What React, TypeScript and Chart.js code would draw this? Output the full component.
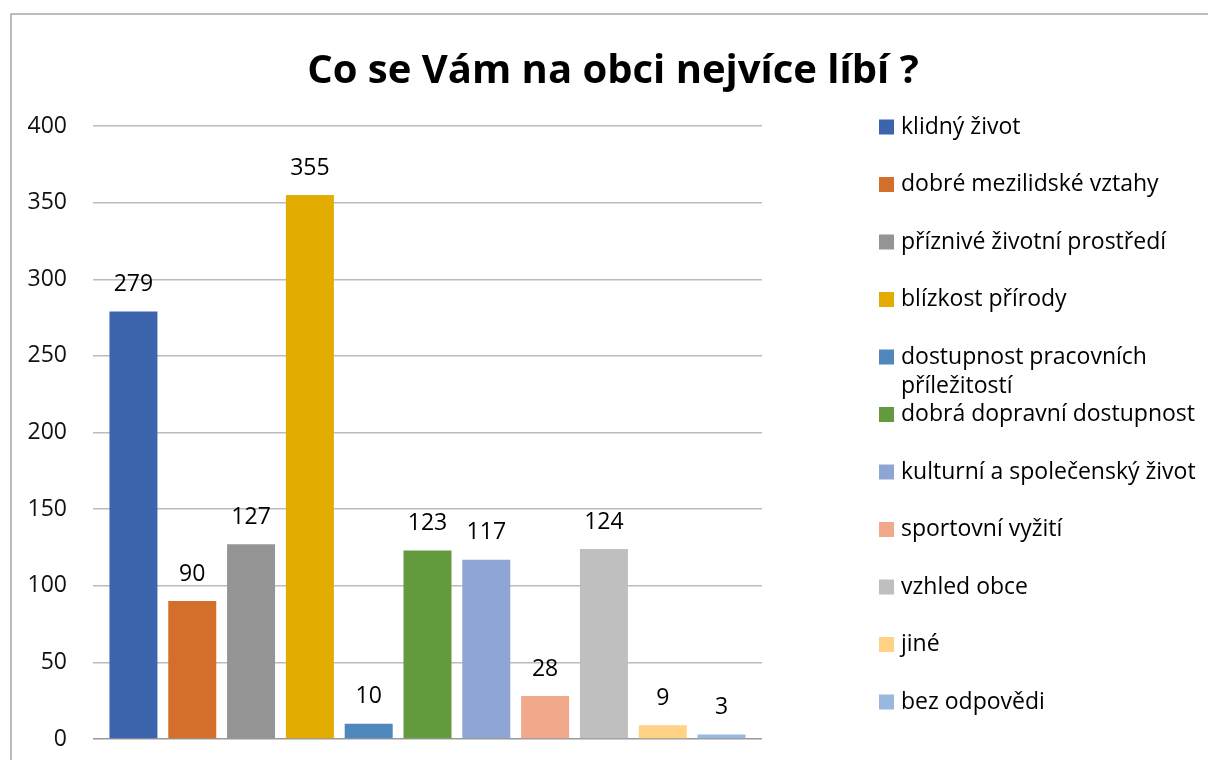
import React, { useEffect, useRef } from "react";
import { Chart, registerables } from "chart.js";

Chart.register(...registerables);

const TITLE = "Co se Vám na obci nejvíce líbí ?";
const CATEGORY_NAMES = [
  "klidný život",
  "dobré mezilidské vztahy",
  "příznivé životní prostředí",
  "blízkost přírody",
  "dostupnost pracovních příležitostí",
  "dobrá dopravní dostupnost",
  "kulturní a společenský život",
  "sportovní vyžití",
  "vzhled obce",
  "jiné",
  "bez odpovědi",
];
const VALUES = [279, 90, 127, 355, 10, 123, 117, 28, 124, 9, 3];
const COLORS = [
  "#3D65AE",
  "#D46F2B",
  "#949494",
  "#E2AC00",
  "#4F88BD",
  "#629A3D",
  "#8FA5D4",
  "#F0A98A",
  "#BFBFBF",
  "#FFD285",
  "#98B8E0",
];
const Y_MIN = 0;
const Y_MAX = 400;
const Y_STEP = 50;

const FONT = "'Open Sans', 'DejaVu Sans', sans-serif";

const decorPlugin = {
  id: "decor",
  afterDraw(chart: any) {
    const ctx = chart.ctx as CanvasRenderingContext2D;
    ctx.save();
    // outer frame
    ctx.strokeStyle = "#a6a6a6";
    ctx.lineWidth = 1.5;
    ctx.beginPath();
    ctx.moveTo(11, 800);
    ctx.lineTo(11, 14);
    ctx.lineTo(1300, 14);
    ctx.stroke();

    // title
    ctx.fillStyle = "#000";
    ctx.font = `bold 40px ${FONT}`;
    ctx.textAlign = "center";
    ctx.textBaseline = "middle";
    ctx.fillText(TITLE, 613, 72);

    // data labels
    ctx.font = `23px ${FONT}`;
    chart.data.datasets.forEach((ds: any, i: number) => {
      const meta = chart.getDatasetMeta(i);
      meta.data.forEach((bar: any, j: number) => {
        ctx.fillText(String(ds.data[j]), bar.x, bar.y - 27);
      });
    });

    // legend
    ctx.textAlign = "left";
    ctx.font = `23px ${FONT}`;
    const maxW = 300;
    chart.data.datasets.forEach((ds: any, i: number) => {
      const yc = 127 + i * 57.5;
      ctx.fillStyle = ds.backgroundColor;
      ctx.fillRect(879, yc - 7.5, 15, 15);
      ctx.fillStyle = "#000";
      const words = String(ds.label).split(" ");
      const lines: string[] = [];
      let cur = "";
      words.forEach((w) => {
        const t = cur ? cur + " " + w : w;
        if (ctx.measureText(t).width > maxW && cur) {
          lines.push(cur);
          cur = w;
        } else cur = t;
      });
      if (cur) lines.push(cur);
      lines.forEach((ln, k) => ctx.fillText(ln, 901, yc + k * 29));
    });
    ctx.restore();
  },
};

export default function App() {
  const ref = useRef<HTMLCanvasElement>(null);
  useEffect(() => {
    const chart = new Chart(ref.current!, {
      type: "bar",
      data: {
        labels: [""],
        datasets: CATEGORY_NAMES.map((name, i) => ({
          label: name,
          data: [VALUES[i]],
          backgroundColor: COLORS[i],
          borderWidth: 0,
          categoryPercentage: 0.967,
          barPercentage: 0.816,
        })),
      },
      options: {
        animation: false,
        responsive: false,
        maintainAspectRatio: false,
        devicePixelRatio: 1,
        layout: { padding: { left: 0, right: 446, top: 126, bottom: 21 } },
        plugins: {
          legend: { display: false },
          title: { display: false },
          tooltip: { enabled: false },
        },
        scales: {
          x: { display: false },
          y: {
            min: Y_MIN,
            max: Y_MAX,
            ticks: {
              stepSize: Y_STEP,
              padding: 26,
              color: "#111",
              font: { family: FONT, size: 23 },
            },
            grid: {
              drawTicks: false,
              lineWidth: 1.5,
              color: (c: any) => (c.tick && c.tick.value === 0 ? "#999999" : "#bcbcbc"),
            },
            border: { display: false },
            afterFit: (s: any) => {
              s.width = 93;
              s.paddingTop = 10;
              s.paddingBottom = 10;
            },
          },
        },
      },
      plugins: [decorPlugin],
    });
    return () => chart.destroy();
  }, []);
  return (
    <div style={{ position: "fixed", left: 0, top: 0, width: 1208, height: 760, background: "#fff" }}>
      <canvas ref={ref} width={1208} height={760} style={{ display: "block" }} />
    </div>
  );
}
